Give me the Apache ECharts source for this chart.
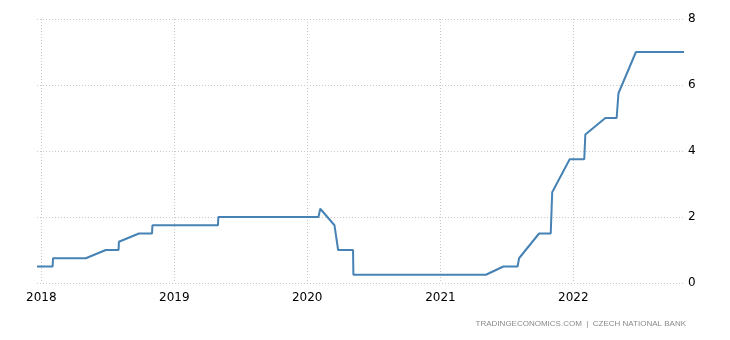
<!DOCTYPE html>
<html>
<head>
<meta charset="utf-8">
<script src="https://cdn.jsdelivr.net/npm/echarts@6/dist/echarts.min.js"></script>
<style>
html,body{margin:0;padding:0;background:#fff;}
#c{width:730px;height:340px;}
</style>
</head>
<body>
<div id="c"></div>
<script>
// Czech National Bank policy rate (%)
const dates = [
  '2017-12-20','2018-02-01','2018-02-02','2018-05-03','2018-06-27','2018-08-01','2018-08-02',
  '2018-09-26','2018-11-01','2018-11-02','2019-05-01','2019-05-02','2020-02-01','2020-02-06',
  '2020-03-16','2020-03-26','2020-05-06','2020-05-07','2021-05-06','2021-06-23','2021-08-01',
  '2021-08-05','2021-09-29','2021-10-31','2021-11-04','2021-12-22','2022-01-31','2022-02-03',
  '2022-03-30','2022-04-30','2022-05-05','2022-06-22','2022-08-03','2022-09-29','2022-11-01'
];
const rates = [
  0.5,0.5,0.75,0.75,1.0,1.0,1.25,
  1.5,1.5,1.75,1.75,2.0,2.0,2.25,
  1.75,1.0,1.0,0.25,0.25,0.5,0.5,
  0.75,1.5,1.5,2.75,3.75,3.75,4.5,
  5.0,5.0,5.75,7.0,7.0,7.0,7.0
];
const yTicks = [0, 2, 4, 6, 8];
const sourceText = 'TRADINGECONOMICS.COM  |  CZECH NATIONAL BANK';

const chart = echarts.init(document.getElementById('c'));
const YEAR = 365 * 24 * 3600 * 1000;
chart.setOption({
  animation: false,
  grid: {left: 37, right: 46, top: 19, bottom: 57, containLabel: false},
  xAxis: {
    type: 'time',
    min: dates[0],
    max: dates[dates.length - 1],
    minInterval: YEAR,
    maxInterval: YEAR,
    axisLine: {show: false},
    axisTick: {show: false},
    axisLabel: {
      formatter: '{yyyy}',
      color: '#000',
      fontSize: 12,
      fontFamily: 'DejaVu Sans, Verdana, sans-serif',
      margin: 9,
      showMinLabel: false,
      showMaxLabel: false
    },
    splitLine: {show: true, showMinLine: false, showMaxLine: false, lineStyle: {color: '#c8c8c8', type: [1, 2], width: 1}}
  },
  yAxis: {
    type: 'value',
    position: 'right',
    min: yTicks[0],
    max: yTicks[yTicks.length - 1],
    interval: 2,
    axisLine: {show: false},
    axisTick: {show: false},
    axisLabel: {color: '#000', fontSize: 12, fontFamily: 'DejaVu Sans, Verdana, sans-serif', margin: 4},
    splitLine: {show: true, lineStyle: {color: '#c8c8c8', type: [1, 2], width: 1}}
  },
  graphic: [{
    type: 'text',
    right: 44,
    top: 320,
    style: {text: sourceText, fill: '#8a8a8a', fontSize: 8, fontFamily: 'Liberation Sans, Arial, sans-serif'}
  }],
  series: [{
    type: 'line',
    data: dates.map((d, i) => [d, rates[i]]),
    showSymbol: false,
    lineStyle: {color: '#4682b4', width: 2},
    itemStyle: {color: '#4682b4'}
  }]
});
</script>
</body>
</html>
